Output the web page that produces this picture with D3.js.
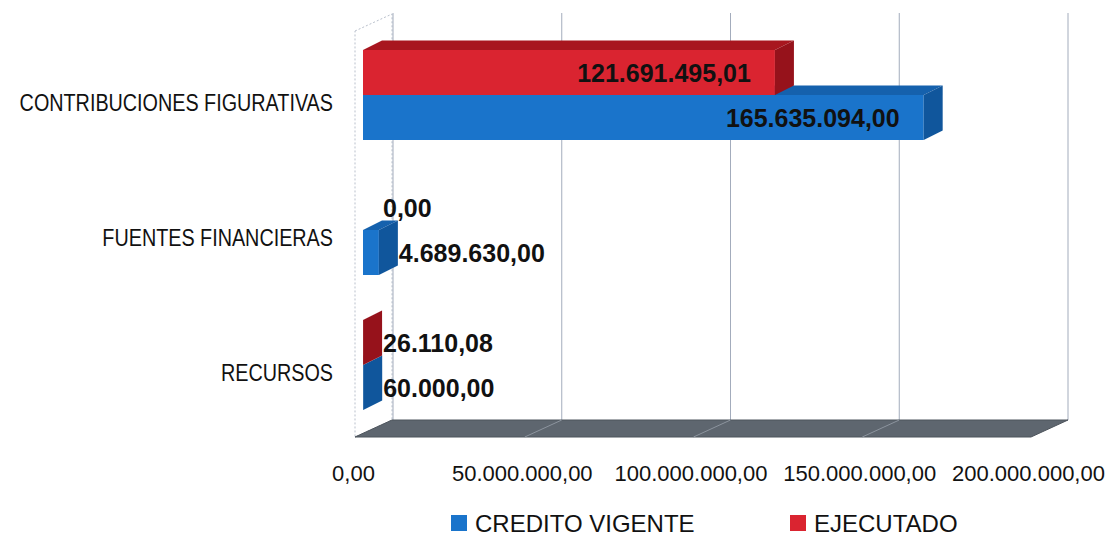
<!DOCTYPE html>
<html>
<head>
<meta charset="utf-8">
<script src="https://cdn.jsdelivr.net/npm/d3@7"></script>
<style>
  body { margin: 0; background: #fff; }
  text { font-family: "Liberation Sans", Arial, sans-serif; }
</style>
</head>
<body>
<script>
// data
var categories = ["CONTRIBUCIONES FIGURATIVAS", "FUENTES FINANCIERAS", "RECURSOS"];
var seriesNames = ["EJECUTADO", "CREDITO VIGENTE"];
var creditoVigente = [165635094.00, 4689630.00, 60000.00];
var ejecutado = [121691495.01, 0, 26110.08];
var xTicks = [0, 50000000, 100000000, 150000000, 200000000];

var width = 1118, height = 538;

// spanish number format 1.234.567,89
var locale = d3.formatLocale({decimal: ",", thousands: ".", grouping: [3], currency: ["", ""]});
var fmt = locale.format(",.2f");

var colors = {
  "CREDITO VIGENTE": {front: "#1a74cb", top: "#1561ad", side: "#10569c"},
  "EJECUTADO": {front: "#da2430", top: "#a8161f", side: "#96121b"}
};

// 3d offsets
var wallDx = 37, wallDy = -17;
var barDx = 19, barDy = -9.5;

// scales
var x = d3.scaleLinear().domain([0, 200000000]).range([363, 1040]);
var xBack = d3.scaleLinear().domain([0, 200000000]).range([393, 1068]);
var xLabel = d3.scaleLinear().domain([0, 200000000]).range([353, 1028]);
var y = d3.scaleBand().domain(categories).range([27.5, 432.5])
          .paddingInner(1 / 3).paddingOuter(1 / 6);
var ySub = d3.scaleBand().domain(seriesNames).range([0, y.bandwidth()]);

var floorY = 437, wallTopY = 31;

var svg = d3.select("body").append("svg")
    .attr("width", width)
    .attr("height", height);

svg.append("rect").attr("width", width).attr("height", height).attr("fill", "#fff");

var frontLeft = x(0) - 8;

// left wall
svg.append("polygon")
  .attr("points", [[frontLeft, wallTopY], [frontLeft + wallDx, wallTopY + wallDy],
                   [frontLeft + wallDx, floorY + wallDy], [frontLeft, floorY]].join(" "))
  .attr("fill", "#fff")
  .attr("stroke", "#b9c0cc")
  .attr("stroke-width", 1)
  .attr("stroke-dasharray", "2,2");

// back wall gridlines
svg.selectAll(".grid")
  .data(xTicks)
  .enter()
  .append("line")
  .attr("class", "grid")
  .attr("x1", function(d) { return xBack(d); })
  .attr("x2", function(d) { return xBack(d); })
  .attr("y1", wallTopY + wallDy - 1)
  .attr("y2", floorY + wallDy)
  .attr("stroke", "#a3acbc")
  .attr("stroke-width", 1);

// floor
svg.append("polygon")
  .attr("points", [[frontLeft, floorY], [frontLeft + wallDx, floorY + wallDy],
                   [xBack(200000000), floorY + wallDy], [xBack(200000000) - wallDx, floorY]].join(" "))
  .attr("fill", "#5e666f")
  .attr("stroke", "#4d545c")
  .attr("stroke-width", 1);

svg.selectAll(".floorGrid")
  .data(xTicks.slice(1, 4))
  .enter()
  .append("line")
  .attr("class", "floorGrid")
  .attr("x1", function(d) { return xBack(d); })
  .attr("x2", function(d) { return xBack(d) - wallDx; })
  .attr("y1", floorY + wallDy)
  .attr("y2", floorY)
  .attr("stroke", "#8c949e")
  .attr("stroke-width", 1);

// build bar rows, blue first so red sits on top
var rows = [];
categories.forEach(function(c, i) {
  rows.push({cat: c, series: "CREDITO VIGENTE", value: creditoVigente[i]});
  rows.push({cat: c, series: "EJECUTADO", value: ejecutado[i]});
});

var bars = svg.append("g").attr("class", "bars")
  .selectAll("g")
  .data(rows.filter(function(d) { return d.value > 0; }))
  .enter()
  .append("g");

function barGeom(d) {
  var y0 = y(d.cat) + ySub(d.series);
  var h = ySub.bandwidth();
  var x0 = x(0), x1 = x(d.value);
  return {x0: x0, x1: x1, y0: y0, h: h};
}

// top face
bars.append("polygon")
  .attr("points", function(d) {
    var g = barGeom(d);
    return [[g.x0, g.y0], [g.x1, g.y0], [g.x1 + barDx, g.y0 + barDy], [g.x0 + barDx, g.y0 + barDy]].join(" ");
  })
  .attr("fill", function(d) { return colors[d.series].top; });

// front face
bars.append("rect")
  .attr("x", function(d) { return barGeom(d).x0; })
  .attr("y", function(d) { return barGeom(d).y0; })
  .attr("width", function(d) { var g = barGeom(d); return g.x1 - g.x0; })
  .attr("height", function(d) { return barGeom(d).h; })
  .attr("fill", function(d) { return colors[d.series].front; });

// side face
bars.append("polygon")
  .attr("points", function(d) {
    var g = barGeom(d);
    return [[g.x1, g.y0], [g.x1 + barDx, g.y0 + barDy], [g.x1 + barDx, g.y0 + g.h + barDy], [g.x1, g.y0 + g.h]].join(" ");
  })
  .attr("fill", function(d) { return colors[d.series].side; });

// data labels
svg.append("g").attr("class", "labels")
  .selectAll("text")
  .data(rows)
  .enter()
  .append("text")
  .attr("x", function(d) {
    var g = barGeom(d);
    return (g.x1 - g.x0 > 200) ? g.x1 - 24 : g.x1 + 20;
  })
  .attr("y", function(d) { var g = barGeom(d); return g.y0 + g.h / 2 + 9; })
  .attr("text-anchor", function(d) {
    var g = barGeom(d);
    return (g.x1 - g.x0 > 200) ? "end" : "start";
  })
  .attr("font-size", "25px")
  .attr("font-weight", "bold")
  .attr("fill", "#111")
  .text(function(d) { return fmt(d.value); });

// category labels
svg.append("g").attr("class", "catLabels")
  .selectAll("text")
  .data(categories)
  .enter()
  .append("text")
  .attr("transform", function(d) {
    return "translate(333," + (y(d) + y.bandwidth() / 2 + 16) + ") scale(0.86,1)";
  })
  .attr("text-anchor", "end")
  .attr("font-size", "23px")
  .attr("fill", "#111")
  .text(function(d) { return d; });

// x axis labels
var xAxis = svg.append("g")
  .attr("transform", "translate(0,465)")
  .call(d3.axisBottom(xLabel).tickValues(xTicks).tickFormat(fmt).tickSize(0).tickPadding(0));
xAxis.select(".domain").remove();
xAxis.selectAll("text")
  .attr("font-size", "22px")
  .attr("font-family", "Liberation Sans, Arial, sans-serif")
  .attr("fill", "#111");

// legend
var legendItems = [
  {name: "CREDITO VIGENTE", x: 451},
  {name: "EJECUTADO", x: 790}
];
var legend = svg.append("g").attr("class", "legend")
  .selectAll("g")
  .data(legendItems)
  .enter()
  .append("g")
  .attr("transform", function(d) { return "translate(" + d.x + ",515)"; });

legend.append("rect")
  .attr("width", 16)
  .attr("height", 16)
  .attr("fill", function(d) { return colors[d.name].front; });

legend.append("text")
  .attr("x", 24)
  .attr("y", 17)
  .attr("font-size", "24px")
  .attr("fill", "#111")
  .text(function(d) { return d.name; });
</script>
</body>
</html>
